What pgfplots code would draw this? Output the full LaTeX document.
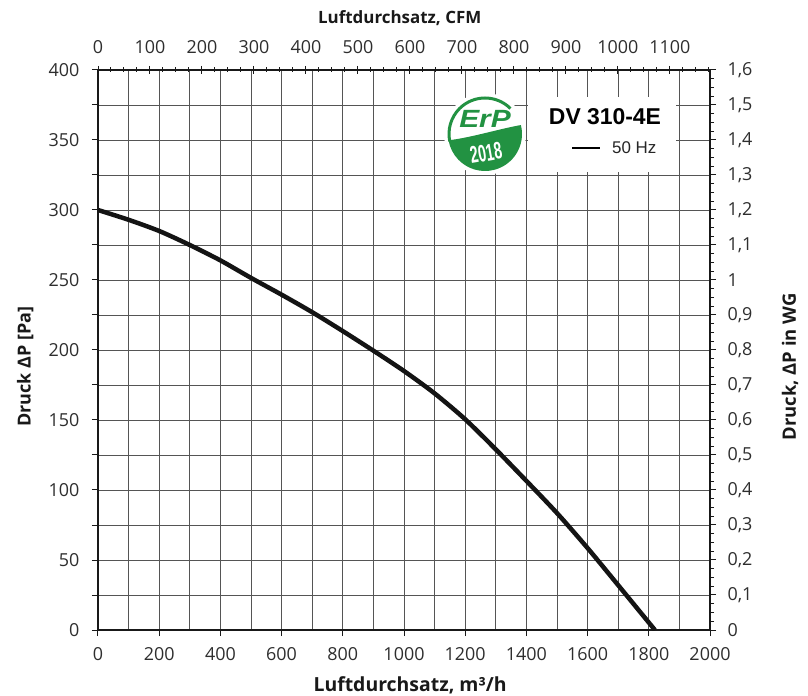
\documentclass[border=0pt]{standalone}
\usepackage{fontspec}
\setmainfont{Open Sans}
\newfontfamily\arialfont{Liberation Sans}
\newfontfamily\narrowfont{Liberation Sans}[FakeStretch=0.6]
\newfontfamily\wideitfont{Liberation Sans}[FakeStretch=1.2]
\usepackage{pgfplots}
\pgfplotsset{compat=1.18}
\definecolor{erpgreen}{RGB}{34,146,66}
\definecolor{gridc}{RGB}{85,85,85}
\pgfplotstableread{
x y
0 300
100 293
200 285
300 275
400 264
500 251.5
600 239.5
700 227
800 213.5
900 199.5
1000 185
1100 169
1200 150.5
1300 129
1400 106.5
1500 83.5
1600 58.5
1700 32
1820 0
}\curve
\begin{document}
\begin{tikzpicture}
\useasboundingbox (-98bp,-66bp) rectangle (710bp,630bp);
\pgfplotsset{
  base/.style={scale only axis, width=612bp, height=560bp, at={(0,0)}, anchor=south west,
    /pgf/number format/assume math mode=true,
    /pgf/number format/set thousands separator={},
    tick label style={font=\fontsize{18}{21}\selectfont, text=black!82},
    label style={font=\fontsize{18}{21}\selectfont\bfseries, text=black!90},
    axis line style={black!90, line width=1.1bp},
    tick style={black!90, line width=1bp},
  }
}
% main axis
\begin{axis}[base, xmin=0, xmax=2000, ymin=0, ymax=400,
  axis x line*=bottom, axis y line*=left,
  xtick distance=200, minor x tick num=1,
  ytick distance=50, minor y tick num=1,
  grid=both,
  major grid style={gridc, line width=0.9bp},
  minor grid style={gridc, line width=0.9bp},
  tick align=outside, major tick length=6bp, minor tick length=6bp,
  minor x tick style={draw=none},
  xticklabel style={yshift=-8bp},
  yticklabel style={xshift=-9bp},
  xlabel={Luftdurchsatz, m³/h},
  xlabel style={at={(axis description cs:0.51,0)}, anchor=center, yshift=-55bp, font=\fontsize{19.5}{22}\selectfont\bfseries},
  ylabel={Druck ΔP [Pa]},
  ylabel style={at={(axis description cs:-0.119,0.47)}, anchor=center},
]
\addplot[black!92, line width=4.5bp, smooth, tension=0.45] table[x=x, y=y] {\curve};
\end{axis}
% top CFM axis
\begin{axis}[base, xmin=0, xmax=1177.16, ymin=0, ymax=400,
  axis x line*=top, axis y line=none,
  xtick distance=100, minor x tick num=3,
  tick align=center, major tick length=8bp, minor tick length=5bp,
  xticklabel style={yshift=9bp},
  xlabel={Luftdurchsatz, CFM},
  xlabel style={at={(axis description cs:0.493,1)}, anchor=center, yshift=52bp, font=\fontsize{17}{20}\selectfont\bfseries},
]
\end{axis}
% right inWG axis
\begin{axis}[base, xmin=0, xmax=2000, ymin=0, ymax=1.6,
  axis y line*=right, axis x line=none,
  ytick distance=0.1, minor y tick num=3,
  tick align=outside, major tick length=6bp, minor tick length=4bp,
  yticklabel style={xshift=8bp, /pgf/number format/.cd, use comma, fixed, precision=1},
  ylabel={Druck, ΔP in WG},
  ylabel style={at={(axis description cs:1.131,0.47)}, anchor=center, font=\fontsize{18.5}{21}\selectfont\bfseries},
]
\end{axis}
% ErP logo
\begin{scope}[shift={(387bp,496bp)}]
  \fill[white] (0,0) circle[radius=41bp];
  \draw[erpgreen, line width=3bp] (45:36bp) arc[start angle=45, end angle=192, radius=36bp];
  \fill[erpgreen] (190:34bp) .. controls (-12bp,-3bp) and (14bp,5bp) .. (14:37bp)
     arc[start angle=14, end angle=-170, radius=37bp] -- cycle;
  \node[inner sep=0pt, text=erpgreen, font=\wideitfont\fontsize{25}{27}\selectfont\bfseries\itshape] at (0bp,15bp) {ErP};
  \node[inner sep=0pt, text=white, font=\narrowfont\fontsize{24}{26}\selectfont\bfseries, rotate=10] at (1bp,-19bp) {2018};
\end{scope}
% type box
\fill[white] (430bp,458bp) rectangle (578bp,533bp);
\node[font=\arialfont\fontsize{23}{26}\selectfont\bfseries] at (507bp,513bp) {DV 310-4E};
\draw[black, line width=1.5bp] (474bp,482bp) -- (502bp,482bp);
\node[anchor=west, inner sep=0pt, font=\arialfont\fontsize{17}{19}\selectfont, text=black!85] at (514bp,482bp) {50 Hz};
\end{tikzpicture}
\end{document}
